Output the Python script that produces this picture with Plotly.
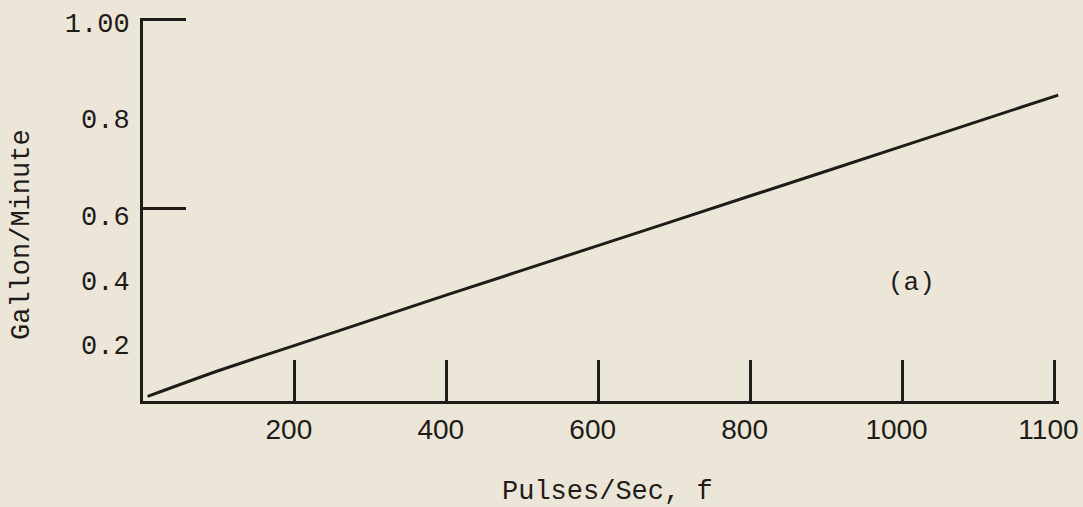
import plotly.graph_objects as go

# Data (x on the printed tick spacing, y on the printed scale position)
pulses = [6, 100, 200, 400, 600, 800, 1000, 1205]
gallons = [0.012, 0.080, 0.146, 0.278, 0.408, 0.538, 0.668, 0.802]

x_tick_vals = [200, 400, 600, 800, 1000, 1200]
x_tick_text = ["200", "400", "600", "800", "1000", "1100"]

y_tick_vals = [0.149, 0.317, 0.487, 0.740, 0.993]
y_tick_text = ["0.2", "0.4", "0.6", "0.8", "1.00"]
y_mark_vals = [0.505, 1.0]

INK = "#1f1b18"
PAPER = "#ece6d9"
MONO = "Liberation Mono, Courier New, monospace"

X_MAX = 1206
Y_MAX = 1.004
L, R, T, B = 143, 24, 18, 106
PW, PH = 1083 - L - R, 507 - T - B

fig = go.Figure()
fig.add_trace(go.Scatter(x=pulses, y=gallons, mode="lines",
                         line=dict(color=INK, width=3, shape="spline", smoothing=0.6),
                         showlegend=False, hoverinfo="skip"))

fig.update_layout(
    width=1083, height=507, autosize=False,
    margin=dict(l=L, r=R, t=T, b=B, autoexpand=False),
    paper_bgcolor=PAPER, plot_bgcolor=PAPER,
    xaxis=dict(range=[0, X_MAX], tickvals=x_tick_vals, ticktext=x_tick_text,
               ticks="inside", ticklen=41, tickwidth=2.5, tickcolor=INK,
               showline=True, linecolor=INK, linewidth=3, showgrid=False,
               zeroline=False, ticklabelstandoff=1, ticklabelshift=-6,
               ticklabeloverflow="allow", automargin=False,
               tickfont=dict(family="Liberation Sans, Arial, sans-serif", size=28, color=INK)),
    yaxis=dict(range=[0, Y_MAX], tickvals=y_tick_vals, ticktext=y_tick_text,
               ticks="", showline=True, linecolor=INK, linewidth=3,
               showgrid=False, zeroline=False, ticklabelstandoff=5,
               ticklabeloverflow="allow", automargin=False,
               tickfont=dict(family=MONO, size=27, color=INK)),
    yaxis2=dict(range=[0, Y_MAX], overlaying="y", side="left", tickvals=y_mark_vals,
                ticks="inside", ticklen=43, tickwidth=2.5, tickcolor=INK,
                showticklabels=False, showline=False, showgrid=False, zeroline=False,
                automargin=False),
    annotations=[
        dict(text="Pulses/Sec, f", xref="paper", yref="paper",
             x=(607 - L) / PW, y=-(492 - (T + PH)) / PH, showarrow=False,
             xanchor="center", yanchor="middle",
             font=dict(family=MONO, size=27, color=INK)),
        dict(text="Gallon/Minute", xref="paper", yref="paper",
             x=-(L - 22) / PW, y=((T + PH) - 235) / PH, showarrow=False,
             textangle=-90, xanchor="center", yanchor="middle",
             font=dict(family=MONO, size=27, color=INK)),
        dict(text="(a)", xref="paper", yref="paper",
             x=(911 - L) / PW, y=((T + PH) - 283) / PH, showarrow=False,
             xanchor="center", yanchor="middle",
             font=dict(family=MONO, size=26, color=INK)),
    ],
)

fig.add_trace(go.Scatter(x=[None], y=[None], yaxis="y2", showlegend=False,
                         hoverinfo="skip"))

fig.write_html("out.html", config={"displayModeBar": False},
               post_script="document.body.style.margin='0';document.body.style.background='%s';" % PAPER)
